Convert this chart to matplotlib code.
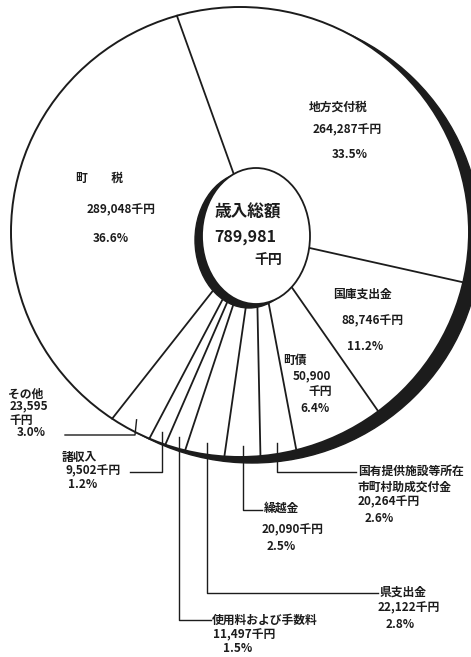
import numpy as np
import matplotlib.pyplot as plt
from matplotlib.patches import Ellipse

plt.rcParams['font.family'] = ['Noto Sans CJK JP', 'DejaVu Sans']

# Revenue items (thousand yen), counter-clockwise from the top boundary
names = ["町　税", "その他", "諸収入", "使用料および手数料", "県支出金",
         "繰越金", "国有提供施設等所在市町村助成交付金", "町債", "国庫支出金", "地方交付税"]
values = [289048, 23595, 9502, 11497, 22122, 20090, 20264, 50900, 88746, 264287]
amount_text = ["289,048千円", "23,595\n千円", "9,502千円", "11,497千円", "22,122千円",
               "20,090千円", "20,264千円", "50,900\n千円", "88,746千円", "264,287千円"]
percent_text = ["36.6%", "3.0%", "1.2%", "1.5%", "2.8%", "2.5%", "2.6%", "6.4%", "11.2%", "33.5%"]
total_text = "789,981"

# Geometry in pixel coordinates
W, H = 471, 657
cx, cy, rx, ry = 240, 232, 229, 225       # outer circle
icx, icy, irx, iry = 256, 236, 54, 68     # inner circle
start_angle = 106
ink = "#1c1c1c"

fig = plt.figure(figsize=(W / 100, H / 100), dpi=100)
ax = fig.add_axes([0, 0, 1, 1])
ax.set_xlim(0, W)
ax.set_ylim(H, 0)
ax.axis("off")

# outer circle with its dark shadow on the right
ax.add_patch(Ellipse((cx + 12, cy + 6), 2 * rx, 2 * ry, facecolor=ink, edgecolor=ink, zorder=1))
ax.add_patch(Ellipse((cx, cy), 2 * rx, 2 * ry, facecolor="white", edgecolor=ink, lw=1.4, zorder=2))

vals = np.array(values, dtype=float)
frac = vals / vals.sum()
bounds = start_angle + 360 * np.concatenate([[0], np.cumsum(frac)])


def outer_pt(theta, k=1.0):
    t = np.radians(theta)
    return cx + k * rx * np.cos(t), cy - k * ry * np.sin(t)


def inner_pt(px, py):
    dx, dy = px - icx, py - icy
    t = 1 / np.sqrt((dx / irx) ** 2 + (dy / iry) ** 2)
    return icx + dx * t, icy + dy * t


# slice boundaries run from the inner circle out to the rim
for b in bounds[:-1]:
    px, py = outer_pt(b)
    qx, qy = inner_pt(px, py)
    ax.plot([qx, px], [qy, py], color=ink, lw=1.3, zorder=3)

# inner circle with shadow to the lower left
ax.add_patch(Ellipse((icx - 7, icy + 4), 2 * irx, 2 * iry, facecolor=ink, edgecolor=ink, zorder=4))
ax.add_patch(Ellipse((icx, icy), 2 * irx, 2 * iry, facecolor="white", edgecolor=ink, lw=1.3, zorder=5))

ax.text(248, 213, "歳入総額", fontsize=12, fontweight="bold", color=ink, ha="center", va="center", zorder=6)
ax.text(245, 237, total_text, fontsize=11.5, fontweight="bold", color=ink, ha="center", va="center", zorder=6)
ax.text(268, 260, "千円", fontsize=10, fontweight="bold", color=ink, ha="center", va="center", zorder=6)

fs = 8.5
kw = dict(fontsize=fs, fontweight="bold", color=ink, zorder=6)

# big slices: labels inside
ax.text(100, 178, "町　　税", ha="center", va="center", **kw)
ax.text(121, 210, amount_text[0], ha="center", va="center", **kw)
ax.text(111, 239, percent_text[0], ha="center", va="center", **kw)

ax.text(338, 107, names[9], ha="center", va="center", **kw)
ax.text(347, 130, amount_text[9], ha="center", va="center", **kw)
ax.text(350, 154, percent_text[9], ha="center", va="center", **kw)

ax.text(362, 294, names[8], ha="center", va="center", **kw)
ax.text(373, 321, amount_text[8], ha="center", va="center", **kw)
ax.text(365, 346, percent_text[8], ha="center", va="center", **kw)

ax.text(295, 360, names[7], ha="center", va="center", **kw)
ax.text(312, 376, "50,900", ha="center", va="center", **kw)
ax.text(320, 392, "千円", ha="center", va="center", **kw)
ax.text(315, 408, percent_text[7], ha="center", va="center", **kw)


def anchor(i, k=0.95):
    # point near the rim, on the middle line of slice i
    m = (bounds[i] + bounds[i + 1]) / 2
    px, py = outer_pt(m)
    return icx + k * (px - icx), icy + k * (py - icy)


lk = dict(color=ink, lw=1.0, zorder=3)

# その他: diagonal leader then left
x0, y0 = anchor(1)
ax.plot([x0, 135, 65], [y0, 435, 435], **lk)
ax.text(8, 394, names[1], ha="left", va="center", **kw)
ax.text(10, 413, amount_text[1], ha="left", va="center", linespacing=1.2, **kw)
ax.text(17, 433, percent_text[1], ha="left", va="center", **kw)

# 諸収入: down then left
x0, y0 = anchor(2)
ax.plot([x0, x0, 130], [y0, 472, 472], **lk)
ax.text(62, 457, names[2], ha="left", va="center", **kw)
ax.text(66, 471, amount_text[2], ha="left", va="center", **kw)
ax.text(68, 484, percent_text[2], ha="left", va="center", **kw)

# 使用料および手数料
x0, y0 = anchor(3)
ax.plot([x0, x0, 211], [y0, 620, 620], **lk)
ax.text(212, 620, names[3], ha="left", va="center", **kw)
ax.text(213, 635, amount_text[3], ha="left", va="center", **kw)
ax.text(223, 648, percent_text[3], ha="left", va="center", **kw)

# 県支出金
x0, y0 = anchor(4)
ax.plot([x0, x0, 378], [y0, 593, 593], **lk)
ax.text(380, 592, names[4], ha="left", va="center", **kw)
ax.text(378, 608, amount_text[4], ha="left", va="center", **kw)
ax.text(386, 624, percent_text[4], ha="left", va="center", **kw)

# 繰越金
x0, y0 = anchor(5)
ax.plot([x0, x0, 262], [y0, 510, 510], **lk)
ax.text(264, 508, names[5], ha="left", va="center", **kw)
ax.text(262, 530, amount_text[5], ha="left", va="center", **kw)
ax.text(267, 546, percent_text[5], ha="left", va="center", **kw)

# 国有提供施設等所在市町村助成交付金
x0, y0 = anchor(6)
ax.plot([x0, x0, 356], [y0, 472, 472], **lk)
ax.text(358, 471, "国有提供施設等所在", ha="left", va="center", **kw)
ax.text(358, 487, "市町村助成交付金", ha="left", va="center", **kw)
ax.text(358, 502, amount_text[6], ha="left", va="center", **kw)
ax.text(365, 518, percent_text[6], ha="left", va="center", **kw)

fig.savefig("out.png", dpi=100, facecolor="white")
